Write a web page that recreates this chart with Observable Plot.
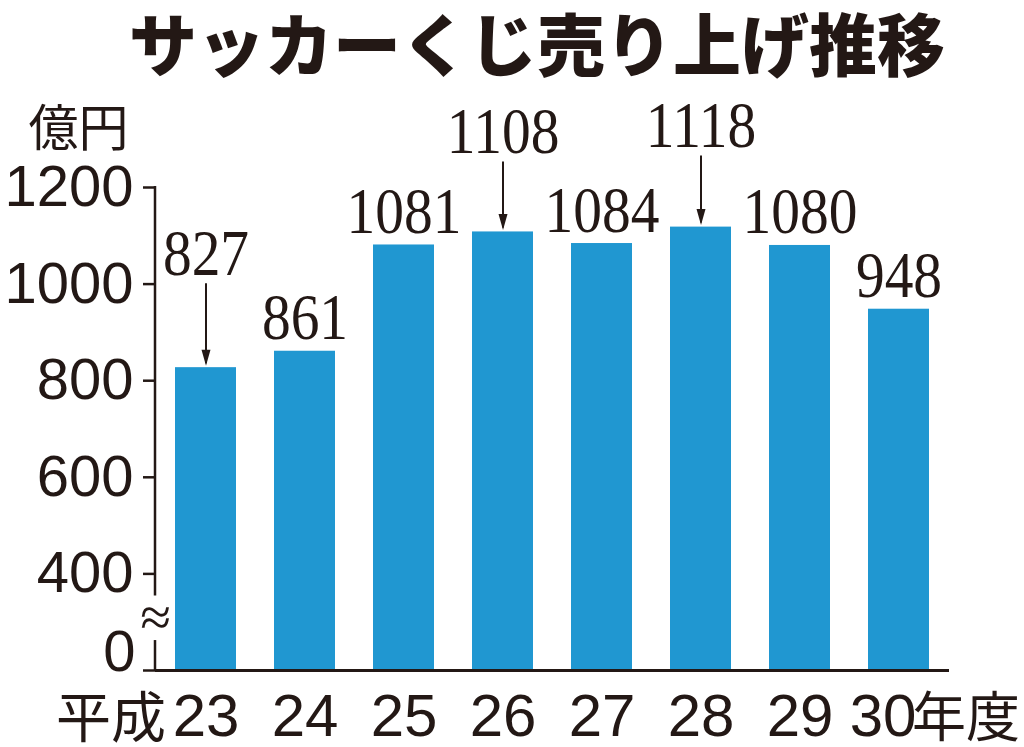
<!DOCTYPE html>
<html><head><meta charset="utf-8">
<script src="https://cdn.jsdelivr.net/npm/d3@7"></script>
<script src="https://cdn.jsdelivr.net/npm/@observablehq/plot@0.6"></script>
<style>
body{margin:0;background:#fff;width:1024px;height:747px;overflow:hidden}
#title{height:90px;line-height:84px;font-family:"Noto Sans CJK JP";font-weight:900;font-size:68px;color:#231815;text-align:center;padding-left:50px;box-sizing:border-box;white-space:nowrap}
#chart svg{display:block}
</style></head><body>
<div id="title"></div>
<div id="chart"></div>
<script>
// ---- data ----
const title = "サッカーくじ売り上げ推移";
const unitLabel = "億円";
const years = ["23","24","25","26","27","28","29","30"];
const sales = [827, 861, 1081, 1108, 1084, 1118, 1080, 948];
const arrowed = [true, false, false, true, false, true, false, false];
const yTicks = [200, 400, 600, 800, 1000, 1200];
const eraPrefix = "平成";
const yearSuffix = "年度";

// ---- setup ----
document.getElementById("title").textContent = title;
const INK = "#231815", BAR = "#2097d1";
const data = years.map((y, i) => ({year: y, value: sales[i], arrow: arrowed[i]}));
const BASE = 200;               // axis is broken: "0" is drawn where 200 would be
const BREAK_LO = 262, BREAK_HI = 354;
const W = 1024, H = 657, MT = 97, MB = 77, ML = 155, MR = 75;
const upp = (1200 - BASE) / (H - MT - MB); // data units per pixel
const liftPx = {"23": 93, "26": 79, "28": 80};
const labelY = d => d.value + (d.arrow ? liftPx[d.year] : 12) * upp;

const arrowHead = {draw(ctx) { ctx.moveTo(0, 0); ctx.lineTo(-4.5, -16); ctx.lineTo(4.5, -16); ctx.closePath(); }};

function brokenAxis(index, {y}, values, dims) {
  const g = d3.create("svg:g").attr("stroke", INK).attr("stroke-width", 2.5);
  const x0 = dims.marginLeft;
  g.append("line").attr("x1", x0).attr("x2", x0).attr("y1", y(1200) - 1).attr("y2", y(BREAK_HI));
  g.append("line").attr("x1", x0).attr("x2", x0).attr("y1", y(BREAK_LO)).attr("y2", y(BASE));
  return g.node();
}

const sans = "Liberation Sans, Noto Sans CJK JP, sans-serif";
const serif = "Liberation Serif, serif";
const cjk = "Noto Sans CJK JP";
const last = years[years.length - 1];

const chart = Plot.plot({
  width: W, height: H,
  marginTop: MT, marginBottom: MB, marginLeft: ML, marginRight: MR,
  style: {fontFamily: sans, color: INK, background: "#fff"},
  x: {domain: years, paddingInner: 0.384, paddingOuter: 0.2, axis: null},
  y: {domain: [BASE, 1200], axis: null},
  marks: [
    Plot.barY(data, {x: "year", y1: BASE, y2: "value", fill: BAR}),
    Plot.ruleY([BASE], {stroke: INK, strokeWidth: 3}),
    Plot.axisY({ticks: yTicks, tickFormat: d => d === BASE ? "" : String(d), tickSize: 12, tickPadding: 10,
      label: null, fontSize: 58, stroke: INK, strokeWidth: 2.5, fill: INK}),
    Plot.text(["0"], {frameAnchor: "bottom-left", text: d => d, textAnchor: "end", lineAnchor: "bottom",
      dx: -20, fontSize: 58, fill: INK}),
    brokenAxis,
    Plot.text(["≈"], {frameAnchor: "left", y: [(BREAK_LO + BREAK_HI) / 2], text: d => d, textAnchor: "middle",
      lineAnchor: "middle", fontSize: 56, fill: INK, fontFamily: serif}),
    Plot.text([unitLabel], {frameAnchor: "top-left", text: d => d, textAnchor: "start", lineAnchor: "bottom",
      dx: -127, dy: -42, fontSize: 50, fill: INK, fontFamily: cjk}),
    // value labels
    Plot.text(data, {x: "year", y: labelY, text: d => String(d.value), textAnchor: "middle", lineAnchor: "bottom",
      fontSize: 66, fontFamily: serif, fill: INK, className: "vlabel"}),
    // arrows
    Plot.ruleX(data.filter(d => d.arrow), {x: "year", y1: d => d.value + 4 * upp, y2: d => d.value + (liftPx[d.year] - 9) * upp,
      stroke: INK, strokeWidth: 2}),
    Plot.dot(data.filter(d => d.arrow), {x: "year", y: d => d.value + 2 * upp, symbol: arrowHead, fill: INK, stroke: "none"}),
    // x labels
    Plot.text(data.filter(d => d.year !== last), {x: "year", text: "year", frameAnchor: "bottom", lineAnchor: "bottom",
      dy: 65, fontSize: 60, fill: INK}),
    Plot.text(data.filter(d => d.year === last), {x: "year", text: "year", frameAnchor: "bottom", lineAnchor: "bottom",
      dx: -16, dy: 65, fontSize: 60, fill: INK}),
    Plot.text(data.slice(0, 1), {x: "year", text: () => eraPrefix, frameAnchor: "bottom", lineAnchor: "bottom",
      textAnchor: "end", dx: -40, dy: 66, fontSize: 55, fill: INK, fontFamily: cjk}),
    Plot.text(data.slice(-1), {x: "year", text: () => yearSuffix, frameAnchor: "bottom", lineAnchor: "bottom",
      textAnchor: "start", dx: 13, dy: 66, fontSize: 54, fill: INK, fontFamily: cjk})
  ]
});
// condense the serif value labels horizontally, as in the printed original
chart.querySelectorAll("g.vlabel text").forEach(t => {
  const tr = t.getAttribute("transform") || "";
  t.setAttribute("transform", tr + " scale(0.87,1)");
});
document.getElementById("chart").appendChild(chart);
</script>
</body></html>
